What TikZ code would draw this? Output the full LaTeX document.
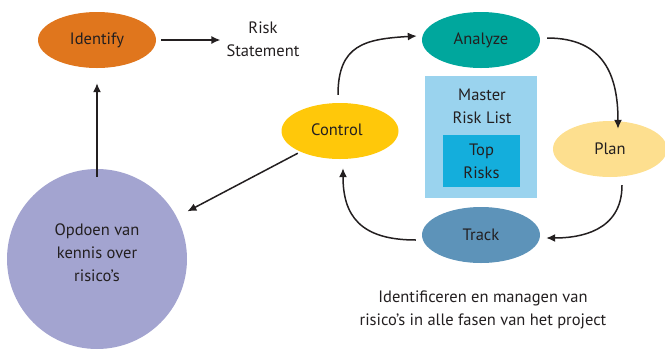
\documentclass[tikz,border=0pt]{standalone}
\usepackage{fontspec}
\setmainfont{PT Sans}
\usetikzlibrary{arrows.meta}
\definecolor{inkgray}{HTML}{231F20}
\definecolor{idorange}{HTML}{E0761D}
\definecolor{anteal}{HTML}{00A79D}
\definecolor{ctlyellow}{HTML}{FFC80A}
\definecolor{planyellow}{HTML}{FDDF8F}
\definecolor{trackblue}{HTML}{5D93B9}
\definecolor{masterblue}{HTML}{9AD3EE}
\definecolor{topblue}{HTML}{14AEDC}
\definecolor{knowpurple}{HTML}{A3A4D0}
\tikzset{
  every node/.style={text=inkgray, font=\fontsize{16.5}{23}\selectfont},
  blob/.style={ellipse, draw=none, minimum width=118, minimum height=56, inner sep=0pt},
  arr/.style={draw=inkgray, line width=1.5pt, -{Latex[length=9pt,width=8pt]}},
  label/.style={align=center, inner sep=0pt}
}
\usetikzlibrary{shapes.geometric}
\begin{document}
\begin{tikzpicture}[x=1pt,y=-1pt]
\useasboundingbox (0,0) rectangle (665,349);

% left column: identification and knowledge
\node[blob, fill=idorange] (identify) at (97,40) {Identify};
\node[label] (risk) at (263,39) {Risk\\Statement};
\node[circle, fill=knowpurple, minimum size=180, inner sep=0pt] (know) at (97,259) {};
\node[label] (knowtext) at (97,253) {Opdoen van\\kennis over\\risico’s};

% cycle of the risk process
\node[blob, fill=anteal] (analyze) at (481,40) {Analyze};
\node[blob, fill=planyellow, minimum width=114] (plan) at (610,149) {Plan};
\node[blob, fill=trackblue] (track) at (481,235) {Track};
\node[blob, fill=ctlyellow, minimum width=117] (control) at (340,131) {};
\node[label] (controltext) at (337,130) {Control};

% master risk list in the middle of the cycle
\node[rectangle, fill=masterblue, minimum width=112, minimum height=122, inner sep=0pt] (master) at (481,137) {};
\node[label] (mastertext) at (482,106) {Master\\Risk List};
\node[rectangle, fill=topblue, minimum width=77, minimum height=52, inner sep=0pt] (top) at (481.5,161) {};
\node[label] (toptext) at (481.5,161) {Top\\Risks};

% caption
\node[label] (caption) at (483,310) {Identificeren en managen van\\risico’s in alle fasen van het project};

% straight connectors
\draw[arr] ([xshift=5pt]identify.east) -- ([xshift=-6pt]risk.west |- identify.east);
\draw[arr] ([yshift=-8pt]know.north) -- ([yshift=-15pt]identify.south);
\draw[arr, shorten <=3pt, shorten >=12pt] (control) -- (know);

% curved connectors of the cycle
\draw[arr] ([xshift=-2pt,yshift=8pt]control.north) .. controls +(0,-50) and +(-52,3) .. ([xshift=-5pt,yshift=4pt]analyze.west);
\draw[arr] ([xshift=7pt,yshift=2pt]analyze.east) .. controls +(57,0) and +(0,-53) .. ([xshift=8pt,yshift=-8pt]plan.north);
\draw[arr] ([xshift=12pt,yshift=-8pt]plan.south) .. controls +(0,47) and +(32,0) .. ([xshift=6pt,yshift=-3pt]track.east);
\draw[arr] ([xshift=-6pt,yshift=-5pt]track.west) .. controls +(-56,0) and +(0,47) .. ([xshift=3pt,yshift=-9pt]control.south);
\end{tikzpicture}
\end{document}
